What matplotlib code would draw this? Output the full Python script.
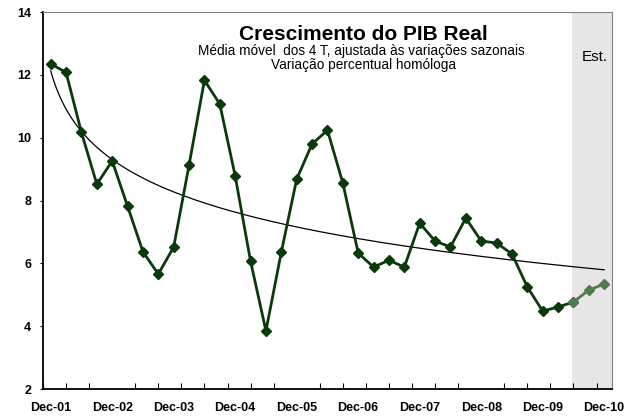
import numpy as np
import matplotlib
matplotlib.use('Agg')
import matplotlib.pyplot as plt

plt.rcParams['font.family'] = ['Liberation Sans', 'DejaVu Sans']

# quarterly values, Dec-01 .. Dec-10
pib = [12.35, 12.08, 10.17, 8.52, 9.26, 7.82, 6.37, 5.66, 6.52, 9.13,
       11.83, 11.07, 8.78, 6.07, 3.85, 6.36, 8.68, 9.80, 10.24, 8.56,
       6.33, 5.88, 6.10, 5.88, 7.28, 6.71, 6.52, 7.44, 6.71, 6.65,
       6.30, 5.25, 4.48, 4.61, 4.77, 5.15, 5.34]
n_est = 3  # last 3 quarters are estimates
year_labels = ['Dec-01', 'Dec-02', 'Dec-03', 'Dec-04', 'Dec-05',
               'Dec-06', 'Dec-07', 'Dec-08', 'Dec-09', 'Dec-10']

x = np.arange(len(pib))
y = np.array(pib)
dark = '#0a3a0a'
light = '#4e7a4e'

fig = plt.figure(figsize=(6.25, 4.17), dpi=100)
ax = fig.add_axes([0.0688, 0.0671, 0.9102, 0.904])

ne = len(pib) - n_est
ax.axvspan(ne - 0.08, len(pib) - 0.5, color='#e6e6e6', zorder=0, lw=0)

# log trend (as excel trendline)
b, a = np.polyfit(np.log(x + 1), y, 1)
xt = np.linspace(0, len(pib) - 1, 200)
ax.plot(xt, a + b * np.log(xt + 1), color='black', lw=0.9, zorder=2)

ax.plot(x[:ne + 1], y[:ne + 1], color=dark, lw=2.0, marker='D', ms=5.3, zorder=3)
ax.plot(x[ne:], y[ne:], color=light, lw=2.0, marker='D', ms=5.3, zorder=3)

ax.set_xlim(-0.5, len(pib) - 0.5)
ax.set_ylim(2, 14)
ax.set_yticks(range(2, 15, 2))
ax.set_xticks(np.arange(0, len(pib), 4))
ax.set_xticklabels(year_labels)
ax.set_xticks(np.arange(-0.5, len(pib), 1.5), minor=True)
ax.tick_params(axis='x', which='major', length=0, pad=9)
ax.tick_params(axis='x', which='minor', direction='in', length=4, width=0.8)
ax.tick_params(axis='y', direction='out', length=2.5, width=0.8, pad=6)
for lab in ax.get_xticklabels() + ax.get_yticklabels():
    lab.set_fontweight('bold')
    lab.set_fontsize(9)

for s in ['left', 'bottom']:
    ax.spines[s].set_linewidth(1.3)
for s in ['top', 'right']:
    ax.spines[s].set_color('#808080')
    ax.spines[s].set_linewidth(0.8)

ax.text(0.563, 0.941, 'Crescimento do PIB Real', transform=ax.transAxes,
        ha='center', va='center', fontsize=15, fontweight='bold')
ax.text(0.559, 0.897, 'Média móvel  dos 4 T, ajustada às variações sazonais',
        transform=ax.transAxes, ha='center', va='center', fontsize=9.8)
ax.text(0.564, 0.860, 'Variação percentual homóloga', transform=ax.transAxes,
        ha='center', va='center', fontsize=9.8)
ax.text(0.97, 0.882, 'Est.', transform=ax.transAxes, ha='center', va='center',
        fontsize=11)

fig.savefig('out.png', dpi=100)
